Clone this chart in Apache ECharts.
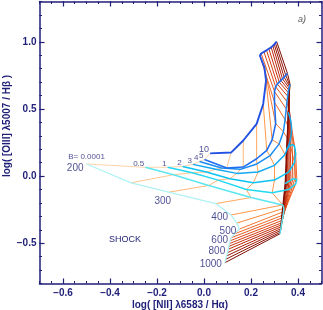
<!DOCTYPE html>
<html>
<head>
<meta charset="utf-8">
<script src="https://cdn.jsdelivr.net/npm/echarts@6/dist/echarts.min.js"></script>
<style>
html,body{margin:0;padding:0;background:#fff;}
#chart{width:323px;height:310px;}
</style>
</head>
<body>
<div id="chart"></div>
<script>
// ---------- data ----------
const VEL = [200,250,300,350,400,450,500,550,600,650,700,750,800,850,900,950,1000];
const VEL_LABELS = ['200','300','400','500','600','800','1000'];
const B_NAMES = ['0.0001','0.5','1','2','3','4','5','10'];
const B_LABELS = ['B= 0.0001','0.5','1','2','3','4','5','10'];
const X_TICKS = [-0.6,-0.4,-0.2,0.0,0.2,0.4];
const Y_TICKS = [-0.5,0.0,0.5,1.0];

// magnetic-parameter curves, one point per velocity in VEL
const X_B0001 = [-0.50,-0.31,-0.15,0.05,0.115,0.14,0.15,0.13,0.115,0.111,0.108,0.105,0.103,0.100,0.096,0.092,0.089];
const Y_B0001 = [0.09,-0.05,-0.12,-0.205,-0.29,-0.35,-0.395,-0.43,-0.46,-0.482,-0.503,-0.524,-0.545,-0.57,-0.595,-0.62,-0.645];
const X_B05 = [-0.25,-0.13,0.02,0.20,0.335,0.34,0.339,0.337,0.335,0.333,0.331,0.330,0.328,0.327,0.326,0.325,0.323];
const Y_B05 = [0.065,0.01,-0.07,-0.16,-0.215,-0.24,-0.265,-0.29,-0.31,-0.33,-0.348,-0.363,-0.378,-0.392,-0.405,-0.418,-0.43];
const X_B1 = [-0.155,-0.05,0.06,0.18,0.29,0.36,0.39,0.395,0.388,0.378,0.370,0.363,0.357,0.352,0.349,0.347,0.345];
const Y_B1 = [0.065,0.025,-0.03,-0.10,-0.125,-0.10,-0.06,-0.025,-0.012,-0.02,-0.03,-0.038,-0.044,-0.049,-0.053,-0.055,-0.057];
const X_B2 = [-0.091,0.01,0.11,0.21,0.30,0.36,0.385,0.39,0.385,0.375,0.367,0.362,0.358,0.355,0.353,0.352,0.352];
const Y_B2 = [0.072,0.03,-0.02,-0.05,-0.03,0.03,0.10,0.17,0.225,0.235,0.228,0.22,0.213,0.207,0.203,0.20,0.197];
const X_B3 = [-0.047,0.05,0.14,0.23,0.30,0.345,0.365,0.372,0.372,0.370,0.368,0.366,0.364,0.362,0.360,0.359,0.358];
const Y_B3 = [0.087,0.05,0.02,0.03,0.08,0.16,0.25,0.32,0.37,0.40,0.42,0.435,0.447,0.456,0.464,0.47,0.475];
const X_B4 = [-0.019,0.075,0.155,0.225,0.28,0.32,0.338,0.345,0.35,0.353,0.356,0.358,0.36,0.362,0.364,0.365,0.366];
const Y_B4 = [0.109,0.06,0.05,0.09,0.15,0.24,0.33,0.42,0.50,0.555,0.595,0.622,0.642,0.657,0.668,0.677,0.685];
const X_B5 = [0.002,0.097,0.167,0.224,0.267,0.29,0.305,0.30,0.30,0.305,0.312,0.32,0.327,0.334,0.341,0.348,0.355];
const Y_B5 = [0.124,0.06,0.067,0.129,0.191,0.27,0.39,0.55,0.63,0.665,0.685,0.70,0.712,0.724,0.736,0.75,0.765];
const X_B10 = [0.026,0.115,0.167,0.224,0.252,0.264,0.257,0.238,0.243,0.255,0.266,0.276,0.286,0.293,0.299,0.304,0.309];
const Y_B10 = [0.169,0.175,0.265,0.389,0.537,0.71,0.81,0.896,0.913,0.925,0.937,0.948,0.958,0.970,0.981,0.991,1.002];

const BX = [X_B0001,X_B05,X_B1,X_B2,X_B3,X_B4,X_B5,X_B10];
const BY = [Y_B0001,Y_B05,Y_B1,Y_B2,Y_B3,Y_B4,Y_B5,Y_B10];

// ---------- styles ----------
const NAVY = '#1f1f78';
const B_COLORS = ['#b0f2f4','#5ce6f2','#22d8f2','#0cc2f2','#12a8f2','#1a8cf2','#1f6ef0','#2150e4'];
const B_WIDTHS = [1.3,1.5,1.5,1.5,1.5,1.5,1.6,1.9];
const V_COLORS = ['#ffd4ac','#ffc690','#ffb878','#ffa860','#ff9848','#fb8838','#f57830','#ee6828',
                  '#e65820','#de4a18','#d43e14','#c93210','#bd280c','#ae2008','#9e1806','#8e1204','#7e0c02'];
const VEL_LABEL_POS = {'200':{position:'left',offset:[0,4]}, '300':{position:'bottom',offset:[-6,1]}};

const series = [];
// velocity lines
VEL.forEach((v,i)=>{
  series.push({
    type:'line', xAxisIndex:0, yAxisIndex:0, symbol:'none', silent:true, z:2,
    lineStyle:{color:V_COLORS[i], width:1},
    data: B_NAMES.map((_,b)=>[BX[b][i],BY[b][i]])
  });
});
// magnetic field curves
B_NAMES.forEach((name,b)=>{
  series.push({
    type:'line', xAxisIndex:0, yAxisIndex:0, symbol:'none', silent:true, z:3,
    lineStyle:{color:B_COLORS[b], width:B_WIDTHS[b]},
    data: VEL.map((v,i)=>[BX[b][i],BY[b][i]])
  });
});
// velocity labels (at the B=0.0001 end)
series.push({
  type:'scatter', xAxisIndex:0, yAxisIndex:0, symbolSize:0, silent:true, z:5,
  data: VEL_LABELS.map(l=>{
    const idx = VEL.indexOf(+l);
    const p = VEL_LABEL_POS[l] || {position:'left',offset:[0,2]};
    return {value:[BX[0][idx],BY[0][idx]],
      label:{show:true, formatter:l, position:p.position, offset:p.offset, distance:3,
             color:NAVY, fontSize:10, fontFamily:'Liberation Sans, Arial, sans-serif'}};
  })
});
// magnetic labels (at the 200 km/s end)
series.push({
  type:'scatter', xAxisIndex:0, yAxisIndex:0, symbolSize:0, silent:true, z:5,
  data: B_LABELS.map((l,b)=>{
    const first = b===0;
    return {value:[BX[b][0],BY[b][0]],
      label:{show:true, formatter:l, position: first?'top':'left', distance: first?3:1,
             offset: first?[0,0]:[0,-4],
             color:NAVY, fontSize: b===7?9:8, fontFamily:'Liberation Sans, Arial, sans-serif'}};
  })
});

const fmt = v => (v<0?'\u2212':'') + Math.abs(v).toFixed(1);
const base = {type:'value', splitLine:{show:false}};
const XMIN=-0.7, XMAX=0.5, YMIN=-0.8, YMAX=1.3;
const lineS = {show:true, onZero:false, lineStyle:{color:NAVY, width:1.5}};
const font = {color:NAVY, fontSize:10, fontWeight:'bold', fontFamily:'Liberation Sans, Arial, sans-serif'};

const option = {
  animation:false,
  backgroundColor:'#fff',
  grid:{left:39.5, right:1.5, top:1.5, bottom:26.5, containLabel:false},
  xAxis:[
    Object.assign({}, base, {position:'bottom', min:XMIN, max:XMAX, axisLine:lineS,
      axisTick:{show:true, inside:true, length:5, customValues:X_TICKS, lineStyle:{color:NAVY,width:1.2}},
      axisLabel:Object.assign({show:true, customValues:X_TICKS, formatter:fmt, margin:5}, font)}),
    Object.assign({}, base, {position:'bottom', min:XMIN, max:XMAX, interval:0.05, axisLine:{show:false,onZero:false},
      axisTick:{show:true, inside:true, length:2.5, lineStyle:{color:NAVY,width:1}}, axisLabel:{show:false}}),
    Object.assign({}, base, {position:'top', min:XMIN, max:XMAX, axisLine:lineS,
      axisTick:{show:true, inside:true, length:5, customValues:X_TICKS, lineStyle:{color:NAVY,width:1.2}}, axisLabel:{show:false}}),
    Object.assign({}, base, {position:'top', min:XMIN, max:XMAX, interval:0.05, axisLine:{show:false,onZero:false},
      axisTick:{show:true, inside:true, length:2.5, lineStyle:{color:NAVY,width:1}}, axisLabel:{show:false}})
  ],
  yAxis:[
    Object.assign({}, base, {position:'left', min:YMIN, max:YMAX, axisLine:lineS,
      axisTick:{show:true, inside:true, length:5, customValues:Y_TICKS, lineStyle:{color:NAVY,width:1.2}},
      axisLabel:Object.assign({show:true, customValues:Y_TICKS, formatter:fmt, margin:3}, font)}),
    Object.assign({}, base, {position:'left', min:YMIN, max:YMAX, interval:0.1, axisLine:{show:false,onZero:false},
      axisTick:{show:true, inside:true, length:2.5, lineStyle:{color:NAVY,width:1}}, axisLabel:{show:false}}),
    Object.assign({}, base, {position:'right', min:YMIN, max:YMAX, axisLine:lineS,
      axisTick:{show:true, inside:true, length:5, customValues:Y_TICKS, lineStyle:{color:NAVY,width:1.2}}, axisLabel:{show:false}}),
    Object.assign({}, base, {position:'right', min:YMIN, max:YMAX, interval:0.1, axisLine:{show:false,onZero:false},
      axisTick:{show:true, inside:true, length:2.5, lineStyle:{color:NAVY,width:1}}, axisLabel:{show:false}})
  ],
  graphic:[
    {type:'text', x:180, y:305, style:{text:'log( [NII] \u03bb6583 / H\u03b1)', fill:NAVY, font:'bold 10px "Liberation Sans", Arial, sans-serif', textAlign:'center', textVerticalAlign:'middle'}},
    {type:'text', x:7, y:126, rotation:Math.PI/2, style:{text:'log( [OIII] \u03bb5007 / H\u03b2 )', fill:NAVY, font:'bold 10px "Liberation Sans", Arial, sans-serif', textAlign:'center', textVerticalAlign:'middle'}},
    {type:'text', x:125, y:240, style:{text:'SHOCK', fill:NAVY, font:'9px "Liberation Sans", Arial, sans-serif', textAlign:'center', textVerticalAlign:'middle'}},
    {type:'text', x:302, y:19, style:{text:'a)', fill:'#555', font:'italic 9px "Liberation Sans", Arial, sans-serif', textAlign:'center', textVerticalAlign:'middle'}}
  ],
  series: series
};
const chart = echarts.init(document.getElementById('chart'), null, {renderer:'canvas'});
chart.setOption(option);
</script>
</body>
</html>
